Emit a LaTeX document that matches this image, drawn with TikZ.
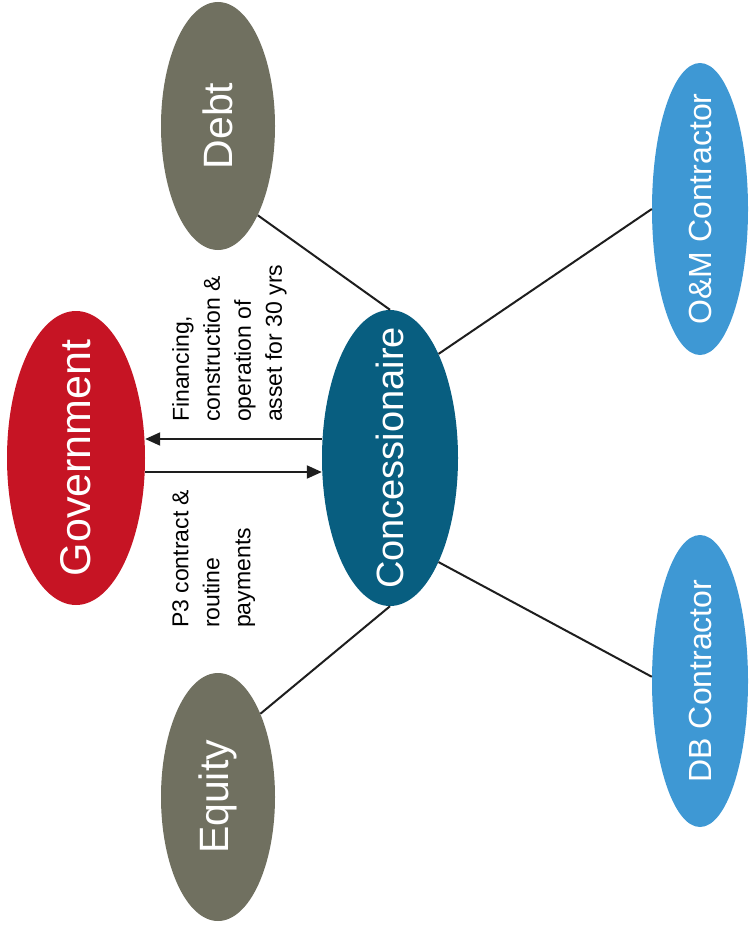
\documentclass[tikz,border=0pt]{standalone}
\usepackage{fontspec}
\setmainfont{Liberation Sans}
\usetikzlibrary{calc,shapes,arrows.meta}

\definecolor{govred}{RGB}{198,20,36}
\definecolor{concblue}{RGB}{8,94,128}
\definecolor{fundgray}{RGB}{112,112,96}
\definecolor{contrblue}{RGB}{62,152,212}
\definecolor{linegray}{RGB}{30,30,30}

%% keep the ellipse size independent of the (long) rotated label
\newcommand{\inell}[1]{\makebox[0pt]{#1}}

\tikzset{
  party/.style={ellipse, rotate=90, inner sep=0pt, text=white},
  link/.style={line width=2pt, draw=linegray},
  flow/.style={line width=2pt, draw=linegray, -{Triangle[length=15pt,width=13pt]}},
  note/.style={rotate=90, anchor=north west, inner sep=0pt, align=left,
    font=\fontsize{23}{31}\selectfont}
}

\begin{document}
\begin{tikzpicture}[x=1pt,y=-1pt]
  \useasboundingbox (0,0) rectangle (749,931);

  %% Government and concessionaire
  \node[party, fill=govred, minimum width=294pt, minimum height=138pt,
    font=\fontsize{43}{43}\selectfont] (gov) at (76,458) {\inell{Government}};
  \node[party, fill=concblue, minimum width=296pt, minimum height=136pt,
    font=\fontsize{38}{38}\selectfont] (conc) at (390,458) {\inell{Concessionaire}};

  %% Funding sources
  \foreach \n/\y/\t in {debt/126/Debt, equity/797/Equity}
  {
    \node[party, fill=fundgray, minimum width=248pt, minimum height=114pt,
      font=\fontsize{41}{41}\selectfont] (\n) at (218,\y) {\inell{\t}};
  }

  %% Contractors
  \foreach \n/\y/\t in {om/209/O\&M Contractor, db/681/DB Contractor}
  {
    \node[party, fill=contrblue, minimum width=292pt, minimum height=96pt,
      font=\fontsize{32}{32}\selectfont] (\n) at (700,\y) {\inell{\t}};
  }

  %% Links to the concessionaire
  \draw[link] (debt.-156) -- (conc.0);
  \draw[link] (equity.-27) -- (conc.180);
  \draw[link] (conc.-25) -- (om.north);
  \draw[link] (conc.-155) -- (db.85);

  %% Flows between government and concessionaire
  \draw[flow] ($(conc.north)+(0,-19)$) -- ($(gov.south)+(0,-19)$);
  \draw[flow] ($(gov.south)+(0,14)$) -- ($(conc.north)+(0,14)$);

  \node[note] (finnote) at (172,422)
    {Financing,\\construction \&\\operation of\\asset for 30 yrs};
  \node[note] (paynote) at (172,628)
    {P3 contract \&\\routine\\payments};
\end{tikzpicture}
\end{document}
